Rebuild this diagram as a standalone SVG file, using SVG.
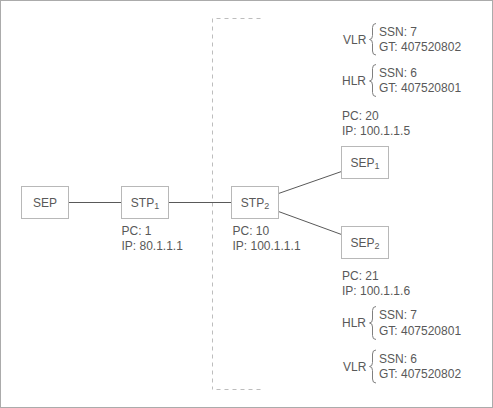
<svg xmlns="http://www.w3.org/2000/svg" width="493" height="408" viewBox="0 0 493 408">
<style>
text{font-family:"Liberation Sans",Arial,sans-serif;font-size:12px;fill:#595959}
.c{text-anchor:middle}
.box{fill:#fff;stroke:#b8b8b8;stroke-width:1}
.conn{stroke:#595959;stroke-width:1;fill:none}
.brace{stroke:#808080;stroke-width:1;fill:none}
.dash{stroke:#bdbdbd;stroke-width:1;fill:none;stroke-dasharray:4 4}
tspan.s{font-size:9px}
</style>
<rect x="0.5" y="0.5" width="492" height="407" fill="#fff" stroke="#ababab" stroke-width="1"/>
<path class="dash" d="M216.5,18.5 H262 M212.5,18.5 V389.5 M216.5,389.5 H262"/>
<g id="connectors">
<line class="conn" x1="68.5" y1="202.5" x2="121.5" y2="202.5"/>
<line class="conn" x1="168.5" y1="202.5" x2="231.5" y2="202.5"/>
<line class="conn" x1="278.5" y1="193.5" x2="341.5" y2="171.5"/>
<line class="conn" x1="278.5" y1="211.5" x2="341.5" y2="234.5"/>
</g>
<g id="SEP">
<rect class="box" x="21.5" y="186.5" width="47" height="32"/>
<text class="c" x="45" y="206.5">SEP</text>
</g>
<g id="STP1">
<rect class="box" x="121.5" y="186.5" width="47" height="32"/>
<text class="c" x="145" y="206.5">STP<tspan class="s" dy="2">1</tspan></text>
<text x="121.5" y="235">PC: 1</text>
<text x="121.5" y="250">IP: 80.1.1.1</text>
</g>
<g id="STP2">
<rect class="box" x="231.5" y="186.5" width="47" height="32"/>
<text class="c" x="255" y="206.5">STP<tspan class="s" dy="2">2</tspan></text>
<text x="232.5" y="235">PC: 10</text>
<text x="232.5" y="250">IP: 100.1.1.1</text>
</g>
<g id="SEP1">
<rect class="box" x="341.5" y="146.5" width="47" height="32"/>
<text class="c" x="365" y="166.5">SEP<tspan class="s" dy="2">1</tspan></text>
<text x="342" y="119.5">PC: 20</text>
<text x="342" y="134.5">IP: 100.1.1.5</text>
<text x="343" y="43.5">VLR</text>
<path class="brace" d="M376,23.5 Q372.5,23.5 372.5,27.5 V35.5 Q372.5,39.5 369.5,39.5 Q372.5,39.5 372.5,43.5 V51 Q372.5,55 376,55"/>
<text x="379" y="35.5">SSN: 7</text>
<text x="379" y="50.5">GT: 407520802</text>
<text x="342" y="85">HLR</text>
<path class="brace" d="M376,64.5 Q372.5,64.5 372.5,68.5 V77 Q372.5,81 369.5,81 Q372.5,81 372.5,85 V92.5 Q372.5,96.5 376,96.5"/>
<text x="379" y="77">SSN: 6</text>
<text x="379" y="92">GT: 407520801</text>
</g>
<g id="SEP2">
<rect class="box" x="341.5" y="226.5" width="47" height="32"/>
<text class="c" x="365" y="246.5">SEP<tspan class="s" dy="2">2</tspan></text>
<text x="342" y="280">PC: 21</text>
<text x="342" y="295">IP: 100.1.1.6</text>
<text x="342" y="327">HLR</text>
<path class="brace" d="M376,306.5 Q372.5,306.5 372.5,310.5 V319 Q372.5,323 369.5,323 Q372.5,323 372.5,327 V335.5 Q372.5,339.5 376,339.5"/>
<text x="379" y="319">SSN: 7</text>
<text x="379" y="334.5">GT: 407520801</text>
<text x="343" y="371">VLR</text>
<path class="brace" d="M376,350 Q372.5,350 372.5,354 V362.5 Q372.5,366.5 369.5,366.5 Q372.5,366.5 372.5,370.5 V379 Q372.5,383 376,383"/>
<text x="379" y="363">SSN: 6</text>
<text x="379" y="378">GT: 407520802</text>
</g>
</svg>
